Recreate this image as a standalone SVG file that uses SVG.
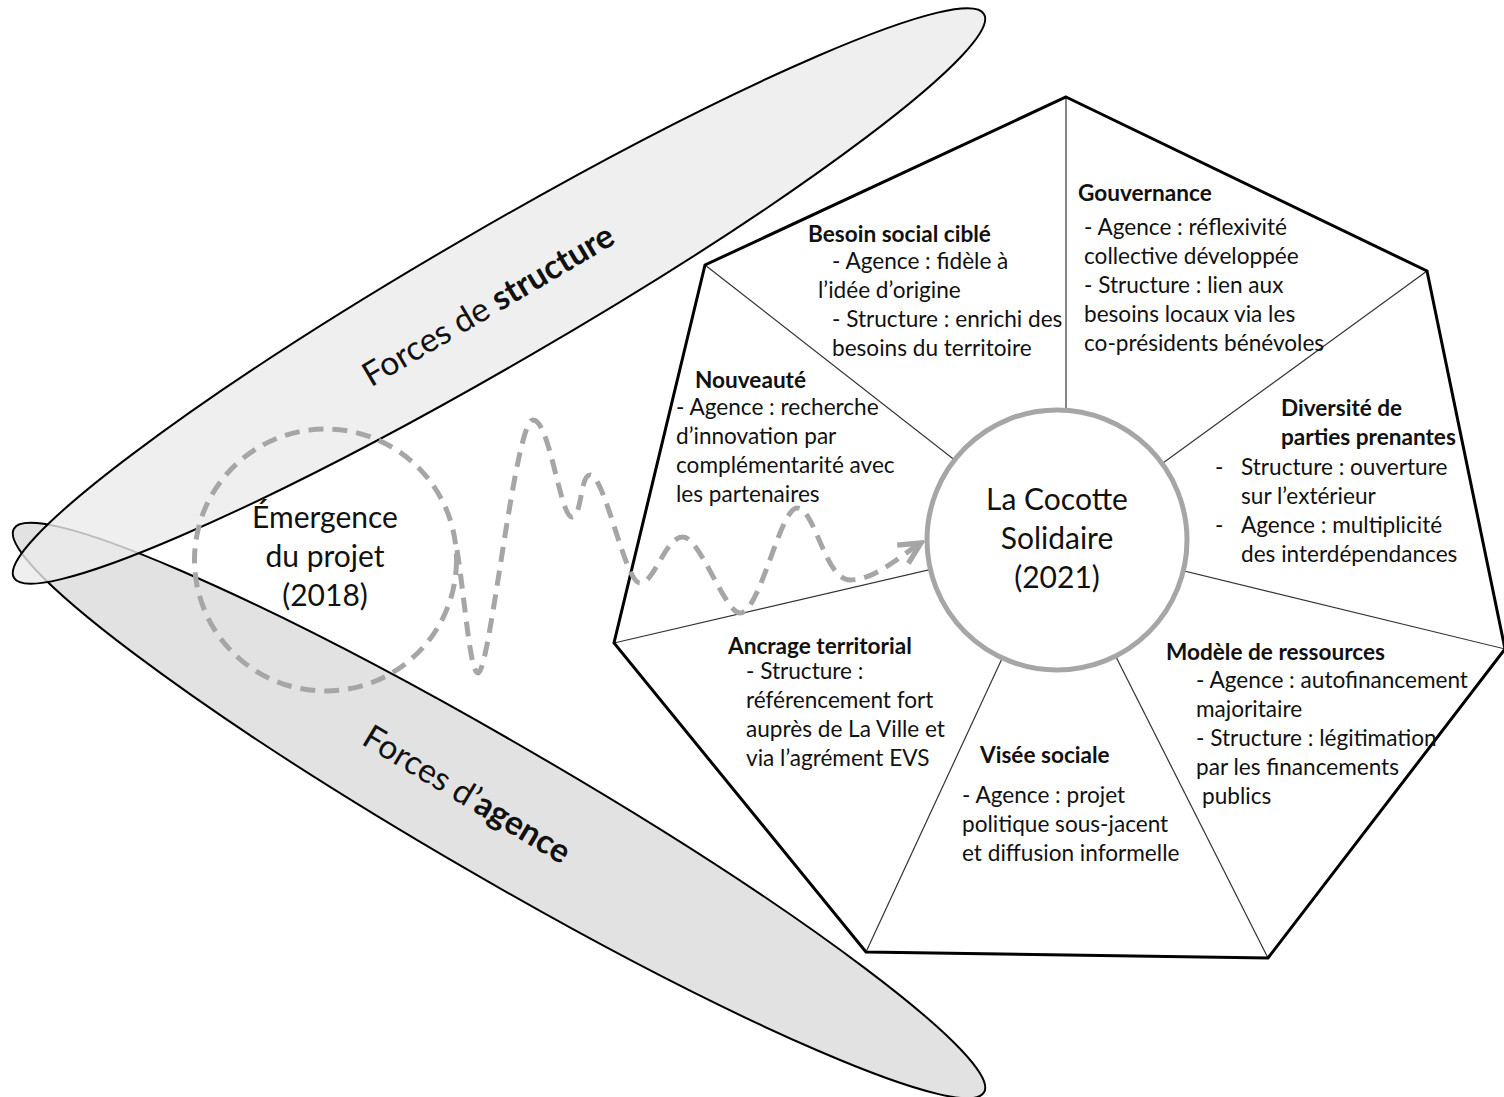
<svg xmlns="http://www.w3.org/2000/svg" width="1504" height="1097" viewBox="0 0 1504 1097">
<style>
  .ell { stroke:#000; stroke-width:2; }
  .big { font-family:Lato, "Open Sans", "DejaVu Sans", sans-serif; font-size:30px; fill:#111; text-anchor:middle; }
  .rot { font-family:Lato, "Open Sans", "DejaVu Sans", sans-serif; font-size:33.5px; fill:#111; text-anchor:middle; }
  .t { font-family:Lato, "Open Sans", "DejaVu Sans", sans-serif; font-size:22.6px; fill:#111; }
  .h { font-weight:bold; }
  .b { font-weight:bold; }
  .hept { fill:none; stroke:#000; stroke-width:3; stroke-linejoin:miter; }
  .spoke { stroke:#333; stroke-width:1.2; }
  .core { fill:#fff; stroke:#a6a6a6; stroke-width:5; }
  .dash { fill:none; stroke:#a6a6a6; stroke-width:5; stroke-dasharray:15 9; }
</style>
<defs>
  <marker id="chev" markerUnits="userSpaceOnUse" markerWidth="30" markerHeight="30" viewBox="-24 -14 28 28" refX="0" refY="0" orient="auto">
    <path d="M -20 -10 L 0 0 L -20 10" fill="none" stroke="#a6a6a6" stroke-width="5"/>
  </marker>
</defs>
<rect width="1504" height="1097" fill="#fff"/>

<g id="forces-agence">
  <ellipse cx="499" cy="810.5" rx="561" ry="67" transform="rotate(30.16 499 810.5)" fill="#e2e2e2" class="ell"/>
  <text class="rot" transform="translate(461,804) rotate(31)">Forces d’<tspan class="b">agence</tspan></text>
</g>
<g id="forces-structure">
  <ellipse cx="499" cy="296" rx="561" ry="67" transform="rotate(-30.16 499 296)" fill="#ebebeb" fill-opacity="0.8" class="ell"/>
  <text class="rot" transform="translate(494,315) rotate(-30.5)">Forces de <tspan class="b">structure</tspan></text>
</g>

<g id="heptagon">
  <line class="spoke" x1="1066" y1="97" x2="1066" y2="540"/>
  <line class="spoke" x1="1427" y1="271" x2="1057" y2="540"/>
  <line class="spoke" x1="1505" y1="649" x2="1057" y2="540"/>
  <line class="spoke" x1="1268" y1="958" x2="1057" y2="540"/>
  <line class="spoke" x1="866" y1="952" x2="1057" y2="540"/>
  <line class="spoke" x1="614" y1="643" x2="1057" y2="540"/>
  <line class="spoke" x1="705" y1="265" x2="1057" y2="540"/>
  <polygon class="hept" points="1066,97 1427,271 1505,649 1268,958 866,952 614,643 705,265"/>
</g>

<g id="besoin-social">
  <text class="t h" x="808" y="242">Besoin social ciblé</text>
  <text class="t" x="832" y="269">- Agence : fidèle à</text>
  <text class="t" x="818" y="298">l’idée d’origine</text>
  <text class="t" x="832" y="327">- Structure : enrichi des</text>
  <text class="t" x="832" y="356">besoins du territoire</text>
</g>
<g id="gouvernance">
  <text class="t h" x="1078" y="201">Gouvernance</text>
  <text class="t" x="1084" y="235">- Agence : réflexivité</text>
  <text class="t" x="1084" y="264">collective développée</text>
  <text class="t" x="1084" y="293">- Structure : lien aux</text>
  <text class="t" x="1084" y="322">besoins locaux via les</text>
  <text class="t" x="1084" y="351">co-présidents bénévoles</text>
</g>
<g id="nouveaute">
  <text class="t h" x="695" y="388">Nouveauté</text>
  <text class="t" x="676" y="415">- Agence : recherche</text>
  <text class="t" x="676" y="444">d’innovation par</text>
  <text class="t" x="676" y="473">complémentarité avec</text>
  <text class="t" x="676" y="502">les partenaires</text>
</g>
<g id="diversite">
  <text class="t h" x="1281" y="416">Diversité de</text>
  <text class="t h" x="1281" y="445">parties prenantes</text>
  <text class="t" x="1215" y="475">-</text>
  <text class="t" x="1241" y="475">Structure : ouverture</text>
  <text class="t" x="1241" y="504">sur l’extérieur</text>
  <text class="t" x="1215" y="533">-</text>
  <text class="t" x="1241" y="533">Agence : multiplicité</text>
  <text class="t" x="1241" y="562">des interdépendances</text>
</g>
<g id="modele-ressources">
  <text class="t h" x="1166" y="660">Modèle de ressources</text>
  <text class="t" x="1196" y="688">- Agence : autofinancement</text>
  <text class="t" x="1196" y="717">majoritaire</text>
  <text class="t" x="1196" y="746">- Structure : légitimation</text>
  <text class="t" x="1196" y="775">par les financements</text>
  <text class="t" x="1202" y="804">publics</text>
</g>
<g id="ancrage">
  <text class="t h" x="728" y="654">Ancrage territorial</text>
  <text class="t" x="746" y="679">- Structure :</text>
  <text class="t" x="746" y="708">référencement fort</text>
  <text class="t" x="746" y="737">auprès de La Ville et</text>
  <text class="t" x="746" y="766">via l’agrément EVS</text>
</g>
<g id="visee-sociale">
  <text class="t h" x="980" y="763">Visée sociale</text>
  <text class="t" x="962" y="803">- Agence : projet</text>
  <text class="t" x="962" y="832">politique sous-jacent</text>
  <text class="t" x="962" y="861">et diffusion informelle</text>
</g>

<g id="la-cocotte">
  <circle cx="1057" cy="540" r="130" class="core"/>
  <text class="big" x="1057" y="510">La Cocotte</text>
  <text class="big" x="1057" y="549">Solidaire</text>
  <text class="big" x="1057" y="588">(2021)</text>
</g>

<g id="emergence">
  <circle cx="325.5" cy="560" r="131" class="dash"/>
  <text class="big" x="325" y="528">Émergence</text>
  <text class="big" x="325" y="567">du projet</text>
  <text class="big" x="325" y="606">(2018)</text>
</g>

<g id="connectors">
  <path class="dash" marker-end="url(#chev)" d="M 457 550 C 465 600, 470 673, 478 673 C 490 673, 515 420, 533 420 C 550 420, 560 517, 572 517 C 582 517, 580 475, 590 475 C 605 475, 625 583, 640 583 C 655 583, 665 537, 683 537 C 700 537, 725 613, 740 613 C 760 613, 780 508, 797 508 C 815 508, 825 580, 850 580 C 875 580, 900 556, 921 543"/>
</g>
</svg>
